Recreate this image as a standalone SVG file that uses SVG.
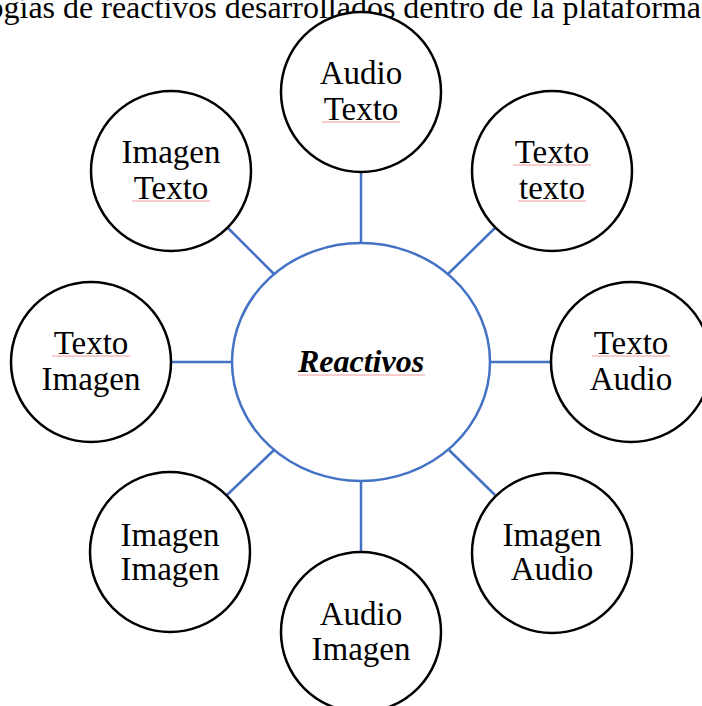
<svg xmlns="http://www.w3.org/2000/svg" width="702" height="706" viewBox="0 0 702 706">
<style>
.node{fill:#fff;stroke:#000;stroke-width:2.5}
.hub{fill:#fff;stroke:#4472C4;stroke-width:2.5}
.conn{stroke:#4472C4;stroke-width:2.5;fill:none}
.t{font-family:"Liberation Serif","Times New Roman",serif;font-size:33px;fill:#000;text-anchor:middle}
.title{font-family:"Liberation Serif","Times New Roman",serif;font-size:32px;fill:#000;text-anchor:end}
.hubt{font-family:"Liberation Serif","Times New Roman",serif;font-size:32px;font-weight:bold;font-style:italic;fill:#000;text-anchor:middle}
.sp{stroke:#f19a9a;stroke-width:1;fill:none}
</style>
<rect width="702" height="706" fill="#fff"/>
<text class="title" x="701" y="18">ogías de reactivos desarrollados dentro de la plataforma</text>
<g id="connectors">
<line class="conn" x1="361" y1="172" x2="361" y2="243"/>
<line class="conn" x1="361" y1="481" x2="361" y2="552"/>
<line class="conn" x1="171" y1="362" x2="232" y2="362"/>
<line class="conn" x1="490" y1="362" x2="551" y2="362"/>
<line class="conn" x1="227" y1="227" x2="274" y2="274"/>
<line class="conn" x1="495" y1="228" x2="448" y2="274"/>
<line class="conn" x1="227" y1="495" x2="274" y2="450"/>
<line class="conn" x1="495" y1="495" x2="449" y2="450"/>
</g>
<g id="hub">
<ellipse class="hub" cx="361" cy="362" rx="129" ry="119"/>
<text class="hubt" x="361" y="372">Reactivos</text>
<line class="sp" x1="298" y1="375" x2="425" y2="375"/>
</g>
<g id="n-audio-texto">
<circle class="node" cx="361" cy="92" r="80"/>
<text class="t" x="361" y="84">Audio</text>
<text class="t" x="361" y="120">Texto</text>
<line class="sp" x1="322" y1="122" x2="400" y2="122"/>
</g>
<g id="n-imagen-texto">
<circle class="node" cx="171" cy="171" r="80"/>
<text class="t" x="171" y="163">Imagen</text>
<text class="t" x="171" y="199">Texto</text>
<line class="sp" x1="132" y1="201" x2="210" y2="201"/>
</g>
<g id="n-texto-texto">
<circle class="node" cx="552" cy="171" r="80"/>
<text class="t" x="552" y="163">Texto</text>
<text class="t" x="552" y="199">texto</text>
<line class="sp" x1="513" y1="165" x2="591" y2="165"/>
<line class="sp" x1="518" y1="201" x2="586" y2="201"/>
</g>
<g id="n-texto-imagen">
<circle class="node" cx="91" cy="362" r="80"/>
<text class="t" x="91" y="354">Texto</text>
<text class="t" x="91" y="390">Imagen</text>
<line class="sp" x1="52" y1="356" x2="130" y2="356"/>
</g>
<g id="n-texto-audio">
<circle class="node" cx="631" cy="362" r="80"/>
<text class="t" x="631" y="354">Texto</text>
<text class="t" x="631" y="390">Audio</text>
<line class="sp" x1="592" y1="356" x2="670" y2="356"/>
</g>
<g id="n-imagen-imagen">
<circle class="node" cx="170" cy="552" r="80"/>
<text class="t" x="170" y="546">Imagen</text>
<text class="t" x="170" y="580">Imagen</text>
</g>
<g id="n-imagen-audio">
<circle class="node" cx="552" cy="553" r="80"/>
<text class="t" x="552" y="546">Imagen</text>
<text class="t" x="552" y="580">Audio</text>
</g>
<g id="n-audio-imagen">
<circle class="node" cx="361" cy="632" r="80"/>
<text class="t" x="361" y="625">Audio</text>
<text class="t" x="361" y="660">Imagen</text>
</g>
</svg>
